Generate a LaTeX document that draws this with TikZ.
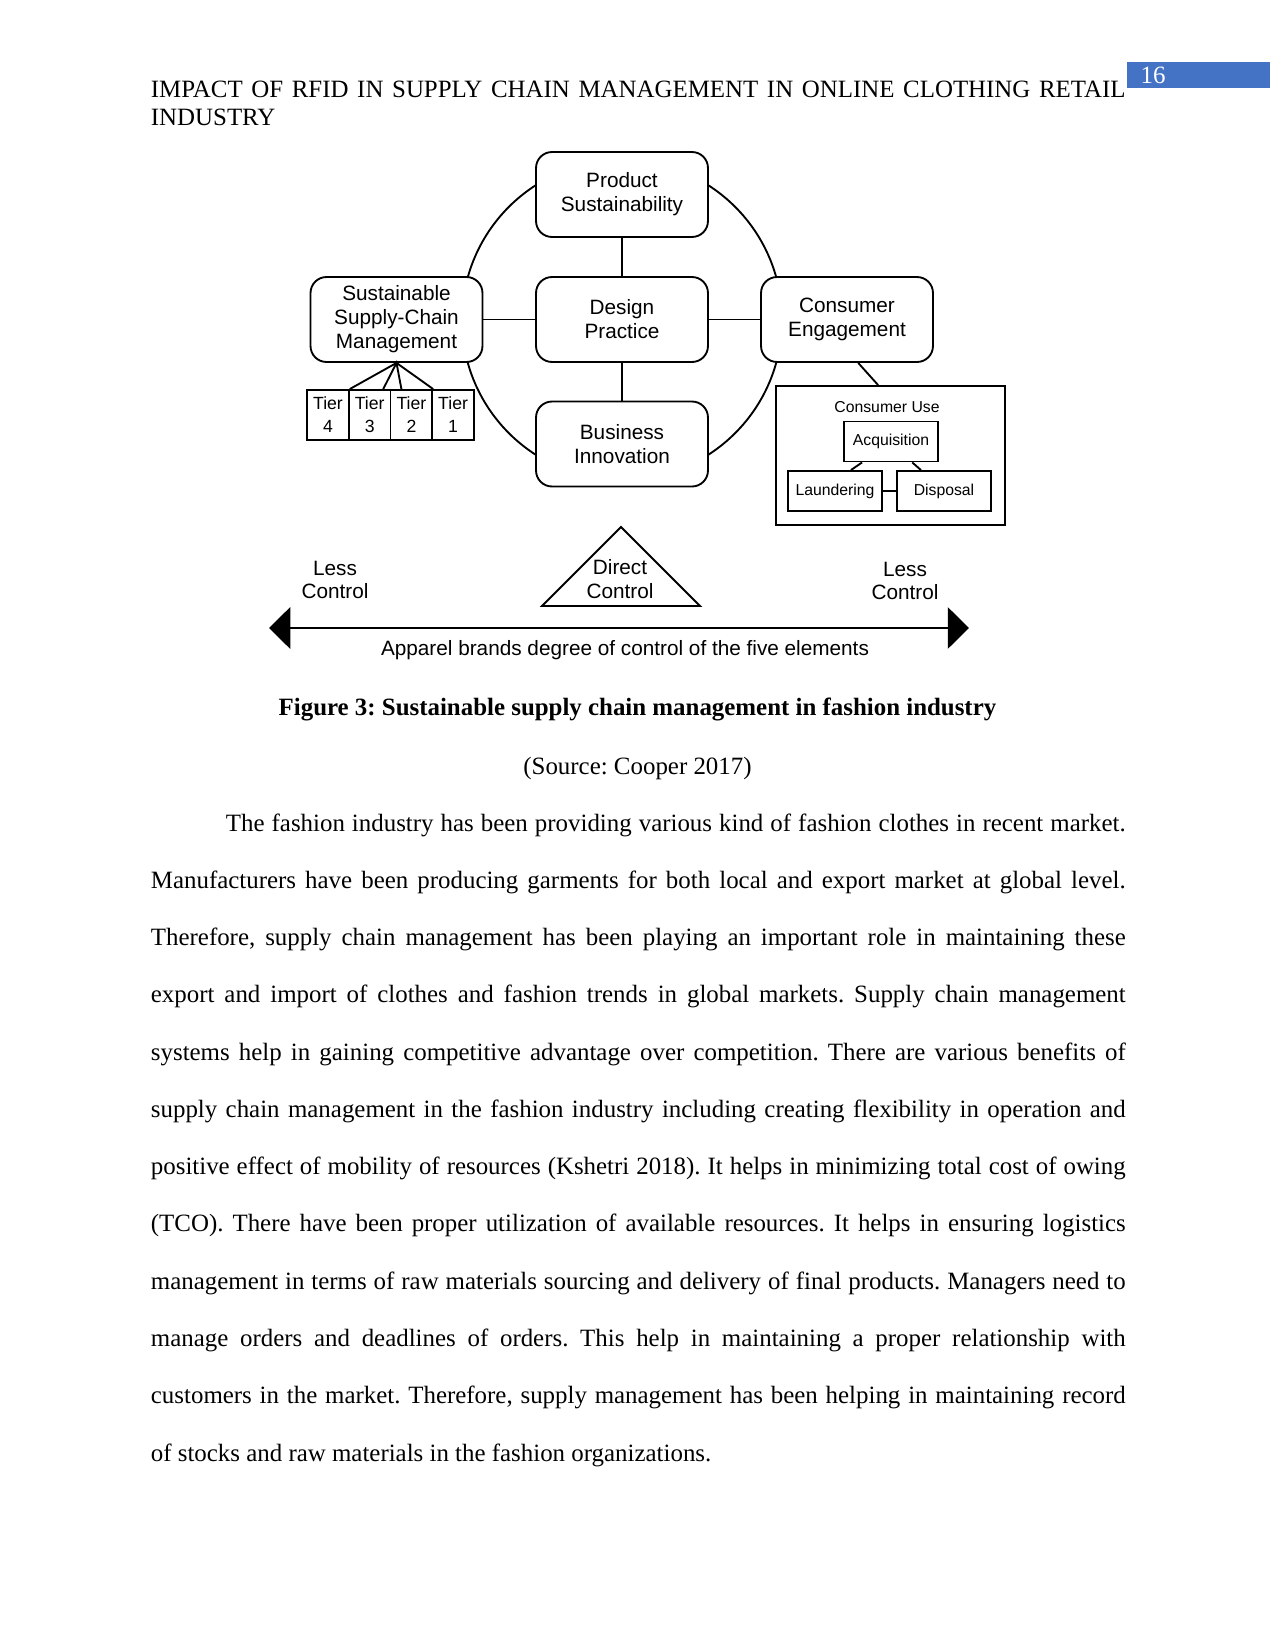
\documentclass[tikz,border=0pt]{standalone}
\usepackage{fontspec}
\setmainfont{Liberation Serif}
\setsansfont{Liberation Sans}
\usepackage{tikz}
\usetikzlibrary{
  positioning,
  arrows.meta
}
\definecolor{pagebar}{HTML}{4472C4}
\frenchspacing

\begin{document}
\begin{tikzpicture}[
  x=0.016933cm, y=-0.016933cm,
  line width=0.9pt,
  every node/.style={inner sep=1pt},
  elem/.style={draw, fill=white, rounded corners=2.7mm, align=center,
    minimum width=2.912cm, minimum height=1.439cm,
    font=\sffamily\fontsize{10}{11.6}\selectfont},
  tier/.style={draw, fill=white, align=center, inner sep=0pt,
    minimum width=0.706cm, minimum height=0.847cm,
    font=\sffamily\fontsize{8.5}{11}\selectfont},
  usebox/.style={draw, fill=white, inner sep=0pt,
    minimum width=1.592cm, minimum height=0.677cm,
    font=\sffamily\fontsize{7.6}{9}\selectfont},
  lbl/.style={align=center, font=\sffamily\fontsize{10}{11.4}\selectfont},
  prose/.style={text width=6.5in, align=justify, inner sep=0pt,
    font=\fontsize{12}{27.6}\selectfont}
]
  \useasboundingbox (0,0) rectangle (1275,1651);

  % running head
  \fill[pagebar] (1127,62) rectangle (1270,88);
  \node[text=white, font=\fontsize{12}{14}\selectfont] (pageno) at (1153,75) {16};
  \node[prose, anchor=base west, font=\fontsize{12}{13.8}\selectfont] (head) at (150,97)
    {IMPACT OF RFID IN SUPPLY CHAIN MANAGEMENT IN ONLINE CLOTHING RETAIL\linebreak INDUSTRY};

  % the five elements
  \coordinate (hub) at (622,320);
  \draw (hub) circle[radius=160];
  \node[elem] (prod) at (622,194.5) {Product\\Sustainability};
  \node[elem] (design) at (622,319.5) {Design\\Practice};
  \node[elem] (biz) at (622,444) {Business\\Innovation};
  \node[elem] (sscm) at (396.5,319.5) {Sustainable\\Supply-Chain\\Management};
  \node[elem] (cons) at (847,319.5) {Consumer\\Engagement};
  \draw (prod) -- (design);
  \draw (design) -- (biz);
  \draw (sscm) -- (design);
  \draw (design) -- (cons);

  % tiers
  \foreach \n/\x in {4/328.0, 3/369.7, 2/411.4, 1/453.1}
    \node[tier] (tier\n) at (\x,415) {Tier\\\n};
  \draw (tier4.north east) -- (sscm.south) -- (tier2.north east);
  \draw ([xshift=-0.14cm]tier3.north east) -- (sscm.south) -- ([xshift=0.2cm]tier2.north west);

  % consumer use
  \node[draw, minimum width=3.878cm, minimum height=2.354cm] (use) at (890.5,455.5) {};
  \node[font=\sffamily\fontsize{7.6}{9}\selectfont] (uselbl) at (887,407) {Consumer Use};
  \node[usebox] (acq) at (891,441.5) {Acquisition};
  \node[usebox] (laund) at (835,491) {Laundering};
  \node[usebox] (disp) at (944,491) {Disposal};
  \draw ([xshift=0.19cm]cons.south) -- ([xshift=-0.21cm]use.north);
  \draw ([xshift=-0.49cm]acq.south) -- ([xshift=0.27cm]laund.north);
  \draw ([xshift=0.36cm]acq.south) -- ([xshift=-0.39cm]disp.north);
  \draw (laund) -- (disp);

  % degree of control
  \coordinate (apex) at (621,527);
  \coordinate (baseL) at (542,606);
  \coordinate (baseR) at (700,606);
  \draw[line join=miter] (baseL) -- (apex) -- (baseR) -- cycle;
  \node[lbl] (direct) at (620,579) {Direct\\Control};
  \node[lbl] (lessL) at (335,580) {Less\\Control};
  \node[lbl] (lessR) at (905,581) {Less\\Control};
  \coordinate (endL) at (269,628);
  \coordinate (endR) at (969,628);
  \draw[line width=1.3pt, {Triangle[length=0.36cm,width=0.70cm]}-{Triangle[length=0.36cm,width=0.70cm]}]
    (endL) -- (endR);
  \node[lbl] (axis) at (625,650) {Apparel brands degree of control of the five elements};

  % caption
  \node[anchor=base, font=\bfseries\fontsize{12}{14}\selectfont] (cap) at (637.5,715)
    {Figure 3: Sustainable supply chain management in fashion industry};
  \node[anchor=base, font=\fontsize{12}{14}\selectfont] (src) at (637.5,774) {(Source: Cooper 2017)};

  % body
  \node[prose, anchor=base west] (body) at (150,831) {\hspace*{0.5in}The fashion industry has been providing various kind of fashion clothes in recent market.\linebreak
Manufacturers have been producing garments for both local and export market at global level.\linebreak
Therefore, supply chain management has been playing an important role in maintaining these\linebreak
export and import of clothes and fashion trends in global markets. Supply chain management\linebreak
systems help in gaining competitive advantage over competition. There are various benefits of\linebreak
supply chain management in the fashion industry including creating flexibility in operation and\linebreak
positive effect of mobility of resources (Kshetri 2018). It helps in minimizing total cost of owing\linebreak
(TCO). There have been proper utilization of available resources. It helps in ensuring logistics\linebreak
management in terms of raw materials sourcing and delivery of final products. Managers need to\linebreak
manage orders and deadlines of orders. This help in maintaining a proper relationship with\linebreak
customers in the market. Therefore, supply management has been helping in maintaining record\linebreak
of stocks and raw materials in the fashion organizations.};
\end{tikzpicture}
\end{document}
